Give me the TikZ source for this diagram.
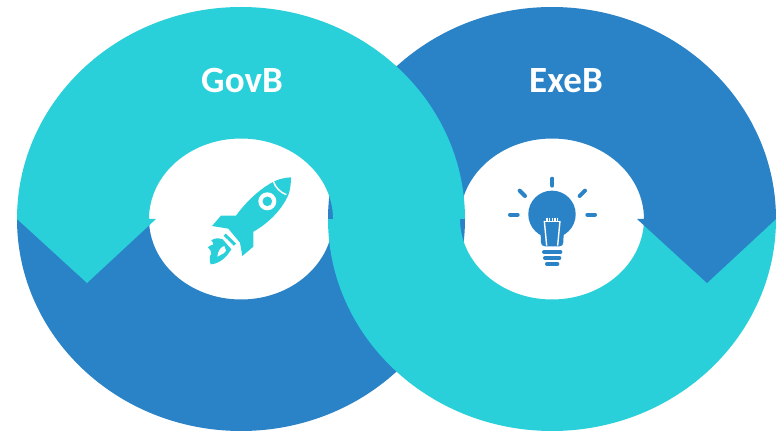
\documentclass[tikz,border=0pt]{standalone}
\usepackage{fontspec}
\setmainfont{Carlito}
\definecolor{ringcyan}{HTML}{29CFD9}
\definecolor{ringblue}{HTML}{2A82C7}
\tikzset{
  cyanfill/.style={fill=ringcyan,draw=none},
  bluefill/.style={fill=ringblue,draw=none},
  outerarc/.style={x radius=224pt,y radius=212pt},
  holearc/.style={x radius=92pt,y radius=80.5pt},
  title/.style={text=white,font=\fontsize{37}{37}\selectfont\bfseries,inner sep=0pt,anchor=center},
  icon/.style={x=0.3333pt,y=-0.3333pt},
  raybar/.style={ringblue,line width=4pt,line cap=round}
}
\begin{document}
\begin{tikzpicture}[x=1pt,y=1pt]
\useasboundingbox (0,0) rectangle (780,431);
\fill[white] (0,0) rectangle (780,431);
% left ring, lower half
\path[bluefill] (17,212) arc[start angle=180,end angle=360,outerarc] -- (333,212) arc[start angle=0,end angle=-180,holearc] -- cycle;
% right ring, lower half
\path[cyanfill] (328,212) arc[start angle=180,end angle=360,outerarc] -- (644,212) arc[start angle=0,end angle=-180,holearc] -- cycle;
% right ring, upper half with arrow
\path[bluefill] (328,212) arc[start angle=180,end angle=0,outerarc] -- (707,148) -- (637,212) -- (644,212) arc[start angle=0,end angle=180,holearc] -- cycle;
% left ring, upper half with arrow
\path[cyanfill] (17,212) arc[start angle=180,end angle=0,outerarc] -- (333,212) arc[start angle=0,end angle=180,holearc] -- (156,212) -- (87,148) -- cycle;
\node[title] (govb) at (242,350) {GovB};
\node[title] (exeb) at (566,350) {ExeB};
% rocket
\begin{scope}[shift={(190,271)},icon]
\path[cyanfill] (303,52) .. controls (275,54) and (258,60) .. (240,71)
  .. controls (200,95) and (165,130) .. (138,167) -- (93,167) -- (66,198) -- (115,206) -- (150,248)
  -- (157,288) -- (190,260) -- (190,215) .. controls (235,190) and (275,150) .. (295,105)
  .. controls (301,88) and (303,70) .. (303,52) -- cycle;
\draw[white,line width=1.5pt] (250,64) .. controls (256,82) and (270,97) .. (289,104);
\draw[ringcyan,line width=3pt] (104,224) -- (135,254);
\fill[white] (232,124) circle[radius=9pt];
\fill[ringcyan] (232,124) circle[radius=4.8pt];
\path[cyanfill] (98,238) .. controls (88,234) and (75,233) .. (64,241)
  .. controls (68,246) and (70,250) .. (70,254) .. controls (62,256) and (56,258) .. (54,262)
  .. controls (60,268) and (64,274) .. (64,281) .. controls (58,288) and (58,300) .. (62,313)
  .. controls (85,312) and (108,295) .. (124,268) -- cycle;
\path[fill=white] (103,258) .. controls (92,262) and (84,272) .. (82,290)
  .. controls (90,282) and (100,286) .. (108,272) -- cycle;
\end{scope}
% bulb
\begin{scope}[shift={(495,266)},icon]
\fill[ringblue] (171,148) circle[radius=23.7pt];
\path[bluefill] (134,190) .. controls (136,205) and (138,215) .. (138,232)
  .. controls (138,240) and (142,244) .. (150,244) -- (193,244)
  .. controls (201,244) and (205,240) .. (205,232) .. controls (205,215) and (207,205) .. (209,190) -- cycle;
\draw[white,line width=1.4pt] (148,168) -- (155,242) (195,168) -- (188,242);
\draw[white,line width=1.4pt] (148,170) -- (195,170);
\draw[white,line width=1.1pt] (156,158) -- (156,172) (164,158) -- (164,172) (172,158) -- (172,172) (180,158) -- (180,172) (188,158) -- (188,172);
\draw[raybar] (147,261) -- (196,261);
\draw[raybar] (150,279) -- (193,279);
\draw[raybar] (156,297) -- (187,297);
\draw[raybar] (172,41) -- (172,62);
\draw[raybar] (74,77) -- (90,93);
\draw[raybar] (270,77) -- (254,93);
\draw[raybar] (45,149) -- (68,149);
\draw[raybar] (277,149) -- (300,149);
\end{scope}
\end{tikzpicture}
\end{document}
